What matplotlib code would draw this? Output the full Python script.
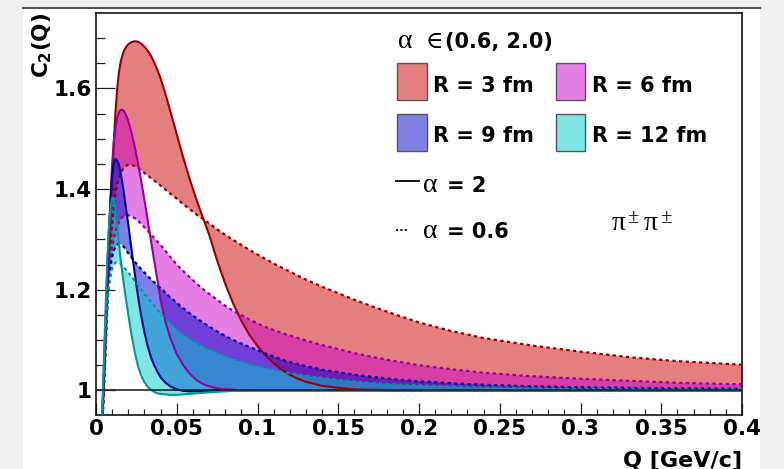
import numpy as np
import matplotlib
matplotlib.use('Agg')
import matplotlib.pyplot as plt
from matplotlib.patches import Rectangle
from matplotlib.lines import Line2D

# ---------------- data ----------------
Q = [0.002, 0.003, 0.004, 0.005, 0.006, 0.007, 0.008, 0.009, 0.010, 0.011,
     0.012, 0.013, 0.014, 0.015, 0.016, 0.017, 0.018, 0.019, 0.020,
     0.022, 0.024, 0.026, 0.028, 0.030, 0.032, 0.034, 0.036, 0.038, 0.040,
     0.043, 0.046,
     0.050, 0.054, 0.058, 0.062, 0.066, 0.070,
     0.075, 0.080, 0.085, 0.090, 0.095, 0.100, 0.105, 0.110, 0.115, 0.120, 0.125, 0.130,
     0.140, 0.150, 0.160, 0.170,
     0.185, 0.200, 0.220, 0.240,
     0.270, 0.300, 0.330, 0.360, 0.400]

r3_a2 = [0.70, 0.84, 0.94, 1.02, 1.10, 1.18, 1.26, 1.34, 1.42, 1.49,
         1.55, 1.595, 1.627, 1.648, 1.662, 1.672, 1.679, 1.684, 1.688,
         1.692, 1.694, 1.693, 1.689, 1.683, 1.675, 1.665, 1.652, 1.637, 1.620,
         1.589, 1.555,
         1.509, 1.463, 1.420, 1.381, 1.345, 1.310,
         1.258, 1.212, 1.172, 1.138, 1.110, 1.088, 1.069, 1.054, 1.041, 1.031, 1.023, 1.017,
         1.009, 1.005, 1.002, 1.001,
         1.0, 1.0, 1.0, 1.0,
         1.0, 1.0, 1.0, 1.0, 1.0]
r3_a06 = [0.70, 0.83, 0.93, 1.00, 1.08, 1.16, 1.23, 1.29, 1.33, 1.365,
          1.39, 1.407, 1.42, 1.429, 1.436, 1.441, 1.445, 1.447, 1.448,
          1.448, 1.446, 1.442, 1.437, 1.432, 1.427, 1.422, 1.417, 1.412, 1.407,
          1.399, 1.391,
          1.381, 1.370, 1.360, 1.350, 1.341, 1.332,
          1.320, 1.309, 1.299, 1.289, 1.279, 1.270, 1.261, 1.252, 1.244, 1.236, 1.228, 1.220,
          1.206, 1.193, 1.180, 1.168,
          1.151, 1.135, 1.118, 1.104,
          1.089, 1.077, 1.066, 1.058, 1.051]
r6_a2 = [0.70, 0.85, 0.95, 1.03, 1.12, 1.21, 1.30, 1.38, 1.45, 1.495,
         1.522, 1.540, 1.551, 1.557, 1.558, 1.556, 1.551, 1.544, 1.535,
         1.512, 1.484, 1.452, 1.416, 1.378, 1.339, 1.298, 1.258, 1.220, 1.180,
         1.136, 1.104,
         1.072, 1.050, 1.033, 1.021, 1.013, 1.008,
         1.004, 1.002, 1.001, 1.0, 1.0, 1.0, 1.0, 1.0, 1.0, 1.0, 1.0, 1.0,
         1.0, 1.0, 1.0, 1.0,
         1.0, 1.0, 1.0, 1.0,
         1.0, 1.0, 1.0, 1.0, 1.0]
r6_a06 = [0.70, 0.84, 0.94, 1.02, 1.10, 1.17, 1.22, 1.26, 1.285, 1.30,
          1.314, 1.325, 1.333, 1.339, 1.343, 1.346, 1.347, 1.348, 1.348,
          1.346, 1.342, 1.337, 1.331, 1.324, 1.317, 1.310, 1.303, 1.296, 1.289,
          1.277, 1.265,
          1.250, 1.237, 1.225, 1.213, 1.202, 1.192,
          1.180, 1.168, 1.158, 1.149, 1.141, 1.133, 1.126, 1.120, 1.114, 1.109, 1.104, 1.099,
          1.090, 1.082, 1.074, 1.067,
          1.058, 1.050, 1.042, 1.035,
          1.028, 1.023, 1.019, 1.015, 1.012]
r9_a2 = [0.70, 0.86, 0.96, 1.05, 1.14, 1.24, 1.32, 1.38, 1.43, 1.452,
         1.460, 1.457, 1.450, 1.437, 1.419, 1.398, 1.375, 1.352, 1.330,
         1.280, 1.232, 1.187, 1.148, 1.115, 1.088, 1.066, 1.050, 1.037, 1.026,
         1.015, 1.008,
         1.002, 0.999, 0.998, 0.998, 0.999, 0.999,
         1.0, 1.0, 1.0, 1.0, 1.0, 1.0, 1.0, 1.0, 1.0, 1.0, 1.0, 1.0,
         1.0, 1.0, 1.0, 1.0,
         1.0, 1.0, 1.0, 1.0,
         1.0, 1.0, 1.0, 1.0, 1.0]
r9_a06 = [0.70, 0.85, 0.95, 1.04, 1.12, 1.18, 1.22, 1.248, 1.265, 1.277,
          1.285, 1.289, 1.291, 1.291, 1.289, 1.286, 1.282, 1.277, 1.272,
          1.264, 1.256, 1.248, 1.241, 1.234, 1.227, 1.221, 1.215, 1.209, 1.203,
          1.194, 1.185,
          1.174, 1.163, 1.153, 1.144, 1.135, 1.127,
          1.117, 1.108, 1.100, 1.093, 1.086, 1.080, 1.073, 1.067, 1.061, 1.056, 1.052, 1.048,
          1.041, 1.036, 1.031, 1.027,
          1.022, 1.018, 1.014, 1.011,
          1.008, 1.006, 1.005, 1.004, 1.003]
r12_a2 = [0.72, 0.87, 0.97, 1.07, 1.17, 1.26, 1.325, 1.364, 1.383, 1.380,
          1.360, 1.330, 1.297, 1.268, 1.241, 1.216, 1.193, 1.171, 1.150,
          1.110, 1.076, 1.048, 1.029, 1.016, 1.007, 1.001, 0.997, 0.994, 0.993,
          0.992, 0.991,
          0.991, 0.992, 0.993, 0.994, 0.995, 0.996,
          0.997, 0.998, 0.999, 0.999, 1.0, 1.0, 1.0, 1.0, 1.0, 1.0, 1.0, 1.0,
          1.0, 1.0, 1.0, 1.0,
          1.0, 1.0, 1.0, 1.0,
          1.0, 1.0, 1.0, 1.0, 1.0]
r12_a06 = [0.72, 0.86, 0.96, 1.05, 1.12, 1.17, 1.205, 1.227, 1.241, 1.250,
           1.254, 1.255, 1.254, 1.252, 1.249, 1.246, 1.242, 1.238, 1.234,
           1.226, 1.218, 1.209, 1.200, 1.192, 1.184, 1.176, 1.168, 1.160, 1.153,
           1.143, 1.133,
           1.121, 1.111, 1.102, 1.094, 1.087, 1.081,
           1.074, 1.068, 1.062, 1.057, 1.052, 1.048, 1.044, 1.041, 1.037, 1.034, 1.032, 1.029,
           1.025, 1.021, 1.018, 1.015,
           1.012, 1.010, 1.008, 1.006,
           1.004, 1.003, 1.002, 1.002, 1.002]

radii_labels = ['R = 3 fm', 'R = 6 fm', 'R = 9 fm', 'R = 12 fm']
alpha2_curves = [r3_a2, r6_a2, r9_a2, r12_a2]
alpha06_curves = [r3_a06, r6_a06, r9_a06, r12_a06]
for arr in alpha2_curves + alpha06_curves:
    assert len(arr) == len(Q), len(arr)

x_ticks = [0, 0.05, 0.1, 0.15, 0.2, 0.25, 0.3, 0.35, 0.4]
x_ticklabels = ['0', '0.05', '0.1', '0.15', '0.2', '0.25', '0.3', '0.35', '0.4']
y_ticks = [1.0, 1.2, 1.4, 1.6]
y_ticklabels = ['1', '1.2', '1.4', '1.6']
y_minor = [1.05, 1.1, 1.15, 1.25, 1.3, 1.35, 1.45, 1.5, 1.55, 1.65, 1.7]

fill_colors = ['#cc0000', '#cc00cc', '#0000cc', '#00cccc']
line_colors = ['#990000', '#990099', '#000099', '#009999']

# ---------------- figure ----------------
W, H = 784, 469
fig = plt.figure(figsize=(W / 100, H / 100), dpi=100, facecolor='#f0f0f0')


def fx(x):
    return x / W


def fy(y):
    return 1 - y / H


canvas = Rectangle((fx(23), 0), fx(760) - fx(23), fy(8), transform=fig.transFigure,
                   facecolor='white', edgecolor='none', zorder=-5)
fig.add_artist(canvas)
fig.add_artist(Line2D([fx(23), fx(760)], [fy(8.5), fy(8.5)], color='#555555', lw=1.5,
                      transform=fig.transFigure, zorder=-4))

ax = fig.add_axes([fx(96), fy(415), fx(742) - fx(96), fy(13) - fy(415)])
ax.set_facecolor('white')
ax.set_xlim(0, 0.4)
ax.set_ylim(0.951, 1.75)

dash = (0, (1.5, 1.5))
for c2, c06, fc in zip(alpha2_curves, alpha06_curves, fill_colors):
    ax.fill_between(Q, c2, c06, facecolor=fc, alpha=0.5, edgecolor='none', zorder=1)
for c2, c06, lc in zip(alpha2_curves, alpha06_curves, line_colors):
    ax.plot(Q, c2, color=lc, lw=1.5, zorder=3, solid_joinstyle='round')
    ax.plot(Q, c06, color=lc, lw=1.6, ls=dash, zorder=3)

ax.axhline(1.0, color='#222222', lw=1.2, zorder=4)

ax.set_xticks(x_ticks)
ax.set_xticklabels(x_ticklabels)
ax.set_xticks(np.arange(0, 0.4001, 0.01), minor=True)
ax.set_yticks(y_ticks)
ax.set_yticklabels(y_ticklabels)
ax.set_yticks(y_minor, minor=True)

ax.tick_params(axis='both', which='both', direction='in', top=False, right=False,
               color='#222222', width=0.9)
ax.tick_params(axis='y', which='major', length=13.5, pad=3)
ax.tick_params(axis='y', which='minor', length=6.7)
ax.tick_params(axis='x', which='major', length=8.4, pad=3)
ax.tick_params(axis='x', which='minor', length=4.3)
for lab in ax.get_xticklabels() + ax.get_yticklabels():
    lab.set_fontsize(15.5)
    lab.set_fontweight('bold')
    lab.set_family('DejaVu Sans')
for lab in ax.get_xticklabels():
    lab.set_clip_path(canvas)

for sp in ax.spines.values():
    sp.set_linewidth(1.2)
    sp.set_color('#111111')

# axis titles
fig.text(fx(42), fy(13), r'$\mathbf{C_{2}(Q)}$', rotation=90, ha='center', va='top',
         fontsize=15.5)
fig.text(fx(742), fy(450), 'Q [GeV/c]', ha='right', va='top', fontsize=16,
         fontweight='bold')

# ---------------- legend ----------------
bold = dict(fontsize=15, fontweight='bold', va='baseline', ha='left')
serif = ['Liberation Serif', 'DejaVu Serif']
greek = dict(fontsize=20, family=serif, va='baseline', ha='left')

fig.text(fx(398), fy(48.3), '\u03b1', **greek)
fig.text(fx(426), fy(48.3), '\u2208', fontsize=17, family=serif, va='baseline', ha='left')
fig.text(fx(445), fy(48.3), '(0.6, 2.0)', **bold)

patch_pos = [(397.3, 63.3), (555.7, 63.3), (397.3, 114.3), (555.7, 114.3)]
text_pos = [(433.3, 91.7), (591.7, 91.7), (433.3, 141.7), (591.7, 141.7)]
for (px, py), (tx, ty), fc, lab in zip(patch_pos, text_pos, fill_colors, radii_labels):
    rgba = matplotlib.colors.to_rgba(fc, 0.5)
    fig.add_artist(Rectangle((fx(px), fy(py + 36.5)), fx(29.3), 36.5 / H,
                             transform=fig.transFigure, facecolor=rgba,
                             edgecolor='#555555', lw=1.0))
    fig.text(fx(tx), fy(ty), lab, **bold)

fig.add_artist(Line2D([fx(396), fx(419)], [fy(181), fy(181)], color='black', lw=1.3,
                      transform=fig.transFigure))
fig.text(fx(423.3), fy(191.7), '\u03b1', **greek)
fig.text(fx(446.7), fy(191.7), '= 2', **bold)

fig.add_artist(Line2D([fx(396), fx(408)], [fy(230), fy(230)], color='black', lw=1.3,
                      ls=(0, (1.2, 1.2)), transform=fig.transFigure))
fig.text(fx(423.3), fy(238.3), '\u03b1', **greek)
fig.text(fx(446.7), fy(238.3), '= 0.6', **bold)

# pi+- pi+- label
fig.text(fx(612), fy(230), '\u03c0', **greek)
fig.text(fx(627), fy(223), '\u00b1', fontsize=15, family=serif, va='baseline', ha='left')
fig.text(fx(644), fy(230), '\u03c0', **greek)
fig.text(fx(660), fy(223), '\u00b1', fontsize=15, family=serif, va='baseline', ha='left')

fig.savefig('out.png', dpi=100, facecolor=fig.get_facecolor())
